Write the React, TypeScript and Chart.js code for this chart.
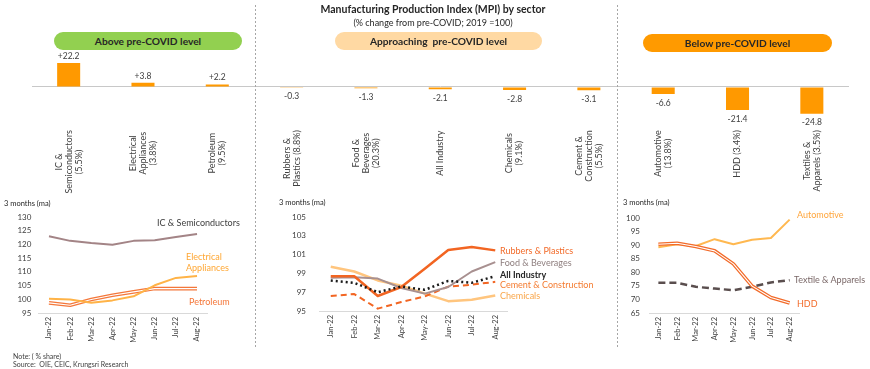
import React, { useEffect, useRef } from 'react';
import { Chart, registerables } from 'chart.js';
Chart.register(...registerables);

// ---------- DATA ----------
const sectorLabels: string[][] = [
  ['IC &', 'Semiconductors', '(5.5%)'],
  ['Electrical', 'Appliances', '(3.8%)'],
  ['Petroleum', '(9.5%)'],
  ['Rubbers &', 'Plastics (8.8%)'],
  ['Food &', 'Beverages', '(20.3%)'],
  ['All Industry'],
  ['Chemicals', '(9.1%)'],
  ['Cement &', 'Construction', '(5.5%)'],
  ['Automotive', '(13.8%)'],
  ['HDD (3.4%)'],
  ['Textiles &', 'Apparels (3.5%)'],
];
const changeFromPreCovid = [22.2, 3.8, 2.2, -0.3, -1.3, -2.1, -2.8, -3.1, -6.6, -21.4, -24.8];

const months = ['Jan-22', 'Feb-22', 'Mar-22', 'Apr-22', 'May-22', 'Jun-22', 'Jul-22', 'Aug-22'];

const icSemiconductors = [123.0, 121.3, 120.5, 119.9, 121.3, 121.5, 122.7, 123.8];
const electricalAppliances = [100.2, 99.9, 98.7, 99.6, 101.1, 105.1, 107.8, 108.5];
const petroleum = [98.7, 97.8, 99.9, 101.5, 102.7, 103.9, 103.9, 103.9];

const rubbersPlastics = [98.7, 98.7, 96.6, 97.55, 99.5, 101.5, 101.8, 101.45];
const foodBeverages = [98.55, 98.6, 98.45, 97.45, 96.85, 97.55, 99.2, 100.2];
const allIndustry = [98.25, 98.0, 97.0, 97.6, 97.25, 98.2, 98.0, 98.7];
const cementConstruction = [96.6, 96.8, 95.25, 95.95, 96.55, 97.6, 97.8, 98.1];
const chemicals = [99.7, 99.2, 98.25, 97.7, 96.85, 96.05, 96.2, 96.65];

const automotive = [89.25, 90.35, 89.7, 92.2, 90.35, 92.0, 92.6, 99.4];
const hdd = [90.35, 90.7, 89.5, 87.9, 83.1, 74.9, 70.7, 68.7];
const textileApparels = [76.1, 76.1, 74.65, 74.0, 73.4, 74.65, 76.25, 77.1];

const FONT = 'Lato, "Open Sans", sans-serif';

// ---------- BAR PANEL ----------
function BarPanel() {
  const ref = useRef<HTMLCanvasElement>(null);
  useEffect(() => {
    const W = 870, H = 200;
    const labelsPlugin = {
      id: 'barLabels',
      afterDatasetsDraw(chart: any) {
        const ctx = chart.ctx;
        const meta = chart.getDatasetMeta(0);
        ctx.save();
        ctx.fillStyle = '#404040';
        ctx.textAlign = 'center';
        ctx.textBaseline = 'middle';
        ctx.font = `8.5px ${FONT}`;
        meta.data.forEach((el: any, i: number) => {
          const v = changeFromPreCovid[i];
          const txt = v > 0 ? '+' + v.toFixed(1) : v.toFixed(1);
          const y = v >= 0 ? el.y - 7 : el.y + 9;
          ctx.fillText(txt, el.x, y);
        });
        const xs = chart.scales.x;
        const top = chart.chartArea.bottom + 13;
        ctx.font = `9px ${FONT}`;
        sectorLabels.forEach((lines, i) => {
          const x = xs.getPixelForTick(i);
          const longest = Math.max(...lines.map((l) => ctx.measureText(l).width));
          const cy = Math.max(top + 23, top + longest / 2);
          ctx.save();
          ctx.translate(x, cy);
          ctx.rotate(-Math.PI / 2);
          ctx.textAlign = 'center';
          lines.forEach((l, j) => ctx.fillText(l, 0, (j - (lines.length - 1) / 2) * 10));
          ctx.restore();
        });
        ctx.restore();
      },
    };
    const chart = new Chart(ref.current!, {
      type: 'bar',
      data: {
        labels: sectorLabels.map((l) => l.join(' ')),
        datasets: [
          {
            data: changeFromPreCovid,
            backgroundColor: '#FF9900',
            borderWidth: 0,
            barPercentage: 0.31,
            categoryPercentage: 1,
          },
        ],
      },
      options: {
        responsive: false,
        animation: false,
        devicePixelRatio: 1,
        layout: { padding: { left: 31.5, right: W - 849, top: 58.9, bottom: 0 } },
        plugins: { legend: { display: false }, tooltip: { enabled: false } },
        scales: {
          x: {
            grid: { display: false, drawTicks: false },
            border: { display: false },
            ticks: { display: false },
            afterFit: (s: any) => {
              s.height = H - 117.2;
            },
          },
          y: {
            min: -28,
            max: 26,
            ticks: { display: false },
            afterBuildTicks: (s: any) => {
              s.ticks = [{ value: 0 }];
            },
            grid: { color: '#C8C8C8', lineWidth: 1, drawTicks: false },
            border: { display: false },
            afterFit: (s: any) => {
              s.width = 0;
            },
          },
        },
      },
      plugins: [labelsPlugin],
    } as any);
    return () => chart.destroy();
  }, []);
  return <canvas ref={ref} width={870} height={200} style={{ position: 'absolute', left: 0, top: 0 }} />;
}

// ---------- LINE PANELS ----------
type Series = { data: number[]; color: string; width: number; dash?: number[]; cap?: string };
type PanelProps = {
  left: number; top: number; width: number; height: number;
  plotLeft: number; plotRight: number; plotTop: number; plotBottom: number;
  yMin: number; yMax: number; step: number; tickPad: number;
  series: Series[];
};

function LinePanel(p: PanelProps) {
  const ref = useRef<HTMLCanvasElement>(null);
  useEffect(() => {
    const chart = new Chart(ref.current!, {
      type: 'line',
      data: {
        labels: months,
        datasets: p.series.map((s) => ({
          data: s.data,
          borderColor: s.color,
          borderWidth: s.width,
          borderDash: s.dash || [],
          borderCapStyle: s.cap || 'butt',
          borderJoinStyle: 'round',
          pointRadius: 0,
          tension: 0,
          fill: false,
        })),
      },
      options: {
        responsive: false,
        animation: false,
        devicePixelRatio: 1,
        layout: { padding: { left: 0, top: p.plotTop - p.top, right: p.left + p.width - p.plotRight, bottom: 0 } },
        plugins: { legend: { display: false }, tooltip: { enabled: false } },
        scales: {
          x: {
            offset: true,
            grid: { display: false, drawTicks: false },
            border: { display: true, color: '#D9D9D9', width: 1 },
            ticks: {
              font: { family: FONT, size: 7.5 },
              color: '#404040',
              minRotation: 90,
              maxRotation: 90,
              padding: 4,
              autoSkip: false,
            },
            afterFit: (s: any) => {
              s.height = p.top + p.height - p.plotBottom;
            },
          },
          y: {
            min: p.yMin,
            max: p.yMax,
            ticks: { stepSize: p.step, font: { family: FONT, size: 8 }, color: '#404040', padding: p.tickPad },
            grid: { display: false, drawTicks: false },
            border: { display: false },
            afterFit: (s: any) => {
              s.width = p.plotLeft - p.left;
            },
          },
        },
      },
    } as any);
    return () => chart.destroy();
  }, []);
  return <canvas ref={ref} width={p.width} height={p.height} style={{ position: 'absolute', left: p.left, top: p.top }} />;
}

// ---------- TEXT HELPERS ----------
function Txt(props: { x: number; y: number; size: number; color?: string; bold?: boolean; center?: boolean; children: any }) {
  return (
    <div
      style={{
        position: 'absolute',
        left: props.x,
        top: props.y,
        transform: props.center ? 'translate(-50%, -50%)' : 'translateY(-50%)',
        fontSize: props.size,
        color: props.color || '#262626',
        fontWeight: props.bold ? 700 : 400,
        whiteSpace: 'pre',
        lineHeight: 1,
        fontFamily: FONT,
      }}
    >
      {props.children}
    </div>
  );
}

function Pill(props: { x: number; y: number; w: number; h: number; bg: string; text: string }) {
  return (
    <div
      style={{
        position: 'absolute',
        left: props.x,
        top: props.y,
        width: props.w,
        height: props.h,
        background: props.bg,
        borderRadius: props.h / 2,
        display: 'flex',
        alignItems: 'center',
        justifyContent: 'center',
        fontFamily: FONT,
        fontWeight: 700,
        fontSize: 10.2,
        color: '#262626',
        whiteSpace: 'pre',
      }}
    >
      {props.text}
    </div>
  );
}

function Dashed(props: { x: number; y: number; h: number }) {
  return (
    <div
      style={{
        position: 'absolute',
        left: props.x,
        top: props.y,
        width: 1,
        height: props.h,
        background: 'repeating-linear-gradient(to bottom, #A6A6A6 0px, #A6A6A6 2px, transparent 2px, transparent 4px)',
      }}
    />
  );
}

export default function App() {
  return (
    <div
      style={{
        position: 'absolute',
        left: 0,
        top: 0,
        width: 870,
        height: 369,
        background: '#FFFFFF',
        overflow: 'hidden',
        fontFamily: FONT,
      }}
    >
      <BarPanel />
      <Dashed x={255} y={5} h={343} />
      <Dashed x={617} y={5} h={343} />

      <Txt x={433} y={9} size={10.5} bold center>Manufacturing Production Index (MPI) by sector</Txt>
      <Txt x={433} y={22} size={9} color="#262626" center>(% change from pre-COVID; 2019 =100)</Txt>

      <Pill x={54} y={32} w={188} h={18} bg="#92D050" text="Above pre-COVID level" />
      <Pill x={335} y={32} w={207} h={18} bg="#FFD9A3" text="Approaching  pre-COVID level" />
      <Pill x={643} y={34} w={189} h={18} bg="#FF9A00" text="Below pre-COVID level" />

      <LinePanel
        left={0} top={195} width={215} height={155}
        plotLeft={38.4} plotRight={207.6} plotTop={217} plotBottom={313}
        yMin={95} yMax={130} step={5} tickPad={7}
        series={[
          { data: icSemiconductors, color: '#A38486', width: 2 },
          { data: electricalAppliances, color: '#FFB347', width: 2 },
          { data: petroleum, color: '#FFFFFF', width: 1.1 },
          { data: petroleum, color: '#F4773A', width: 3.6 },
        ]}
      />
      <LinePanel
        left={262} top={195} width={250} height={155}
        plotLeft={319} plotRight={507} plotTop={217} plotBottom={311}
        yMin={95} yMax={105} step={2} tickPad={13}
        series={[
          { data: allIndustry, color: '#1A1A1A', width: 2.5, dash: [2, 3] },
          { data: rubbersPlastics, color: '#F26522', width: 2.5 },
          { data: foodBeverages, color: '#A89090', width: 2 },
          { data: cementConstruction, color: '#F26522', width: 2, dash: [6, 4] },
          { data: chemicals, color: '#FFC57E', width: 2.5 },
        ]}
      />
      <LinePanel
        left={620} top={195} width={185} height={155}
        plotLeft={649} plotRight={799} plotTop={218} plotBottom={313}
        yMin={65} yMax={100} step={5} tickPad={9}
        series={[
          { data: hdd, color: '#FFFFFF', width: 1.1 },
          { data: hdd, color: '#F26B2A', width: 3.6 },
          { data: textileApparels, color: '#5A4E4E', width: 2.5, dash: [7, 4] },
          { data: automotive, color: '#FFB850', width: 2 },
        ]}
      />

      <Txt x={4} y={204} size={7.5}>3 months (ma)</Txt>
      <Txt x={279} y={203} size={7.5}>3 months (ma)</Txt>
      <Txt x={623} y={203} size={7.5}>3 months (ma)</Txt>

      <Txt x={157} y={222} size={9} color="#404040">IC & Semiconductors</Txt>
      <Txt x={186} y={256} size={9} color="#FFA733">Electrical</Txt>
      <Txt x={186} y={267} size={9} color="#FFA733">Appliances</Txt>
      <Txt x={189} y={301} size={9} color="#F4773A">Petroleum</Txt>

      <Txt x={500} y={250} size={9} color="#F26B2A">Rubbers & Plastics</Txt>
      <Txt x={500} y={262} size={9} color="#8E7E7E">Food & Beverages</Txt>
      <Txt x={500} y={274} size={9} color="#262626" bold>All Industry</Txt>
      <Txt x={500} y={284} size={9} color="#F47B30">Cement & Construction</Txt>
      <Txt x={500} y={295} size={9} color="#F9A64A">Chemicals</Txt>

      <Txt x={797} y={214} size={9} color="#FFA63D">Automotive</Txt>
      <Txt x={794} y={279} size={9} color="#7A6868">Textile & Apparels</Txt>
      <Txt x={797} y={303} size={9} color="#F26B2A">HDD</Txt>

      <Txt x={13} y={356} size={7} color="#404040">Note: ( % share)</Txt>
      <Txt x={13} y={364} size={7} color="#404040">Source:  OIE, CEIC, Krungsri Research</Txt>
    </div>
  );
}
